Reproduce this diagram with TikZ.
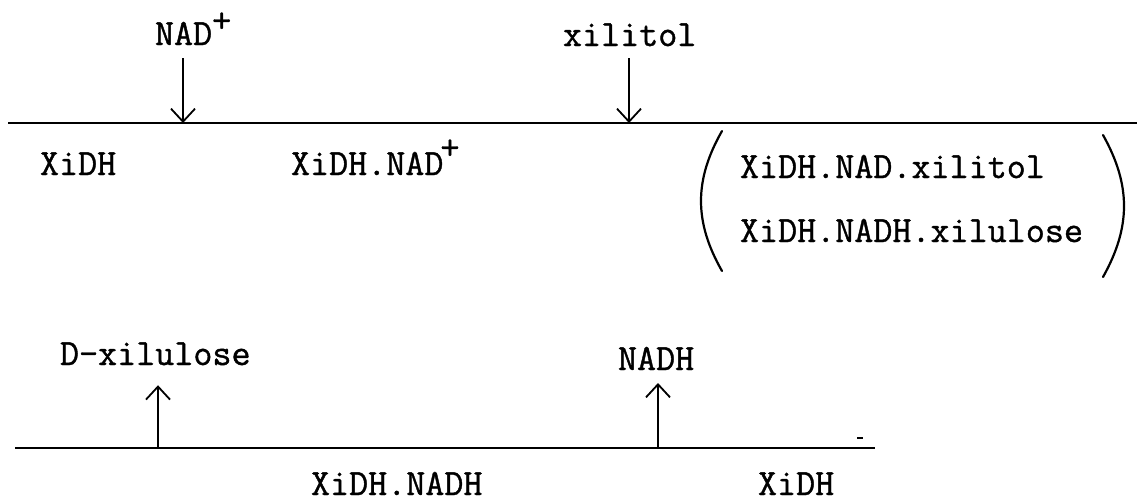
\documentclass[tikz,border=0pt]{standalone}
\usetikzlibrary{arrows.meta}
\newcommand\heavytext[1]{\special{pdf:code q 2 Tr 0.4 w}#1\special{pdf:code Q}}
\tikzset{
  lbl/.style={anchor=base west, inner sep=0pt, outer sep=0pt, font=\ttfamily\fontsize{37}{43}\selectfont},
  rline/.style={line width=1.6pt},
  arr/.style={line width=1.8pt, -{Straight Barb[length=13pt,width=24pt,line width=1.8pt]}},
  paren/.style={line width=2.2pt, line cap=round}
}
\begin{document}
\begin{tikzpicture}[x=1pt,y=-1pt]
\useasboundingbox (0,0) rectangle (1137,499);
% reaction lines
\coordinate (L1w) at (8,123);
\coordinate (L1e) at (1137,123);
\coordinate (L2w) at (15,448);
\coordinate (L2e) at (875,448);
\coordinate (j1) at (183,123);
\coordinate (j2) at (629,123);
\coordinate (j3) at (158,448);
\coordinate (j4) at (658,448);
\draw[rline] (L1w) -- (L1e);
\draw[rline] (L2w) -- (L2e);
% labels
\node[lbl] (nad) at (155,45) {\heavytext{NAD\raisebox{13pt}{+}}};
\node[lbl] (xil) at (563,46) {\heavytext{xilitol}};
\node[lbl] (e1) at (40,175) {\heavytext{XiDH}};
\node[lbl] (e2) at (291,175) {\heavytext{XiDH.NAD\kern-3pt\raisebox{16pt}{+}}};
\node[lbl] (t1) at (740,178) {\heavytext{XiDH.NAD.xilitol}};
\node[lbl] (t2) at (740,242) {\heavytext{XiDH.NADH.xilulose}};
\node[lbl] (dx) at (60,365) {\heavytext{D-xilulose}};
\node[lbl] (nadh) at (618,370) {\heavytext{NADH}};
\node[lbl] (e3) at (311,495) {\heavytext{XiDH.NADH}};
\node[lbl] (e4) at (758,495) {\heavytext{XiDH}};
% arrows
\draw[arr] ([yshift=-13pt]nad.south -| j1) -- (j1);
\draw[arr] ([yshift=-12pt]xil.south -| j2) -- (j2);
\draw[arr] (j3) -- ([yshift=-20pt]dx.south -| j3);
\draw[arr] (j4) -- ([yshift=-13pt]nadh.south -| j4);
% parentheses around the ternary complexes
\coordinate (pl1) at (722,131);
\coordinate (pl2) at (722,271);
\coordinate (pr1) at (1103,135);
\coordinate (pr2) at (1103,277);
\draw[paren] (pl1) .. controls (694,180) and (694,222) .. (pl2);
\draw[paren] (pr1) .. controls (1131,185) and (1131,227) .. (pr2);
% small mark near the end of the lower line
\coordinate (m1) at (857,438);
\coordinate (m2) at (863,438);
\draw[line width=1.2pt] (m1) -- (m2);
\end{tikzpicture}
\end{document}
